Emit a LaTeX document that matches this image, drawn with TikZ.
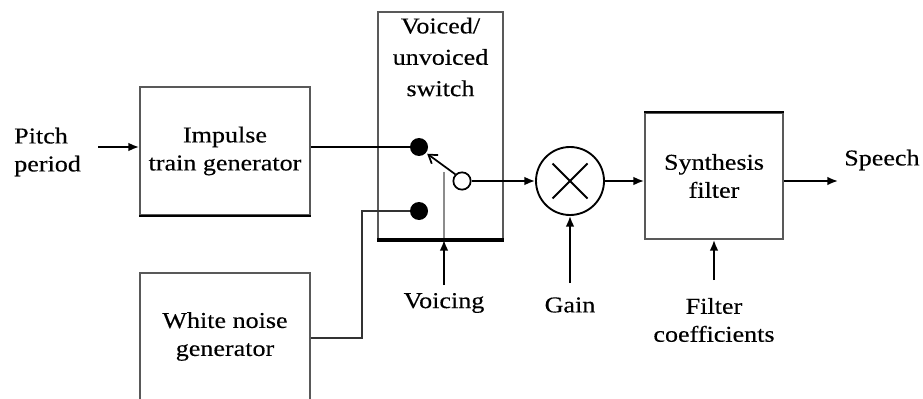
\documentclass[tikz,border=0pt]{standalone}
\usepackage{fontspec}
\setmainfont{Liberation Serif}[FakeStretch=1.15,FakeBold=0.3]
\usetikzlibrary{arrows.meta,calc}
\begin{document}
\begin{tikzpicture}[x=0.75pt,y=-0.75pt,
  font=\fontsize{17}{21}\selectfont,
  blk/.style={draw=black!65, line width=1.4pt, minimum width=#1},
  lbl/.style={align=center, inner sep=0pt},
  conn/.style={line width=1.4pt, -{Latex[length=8pt,width=6.5pt]}},
  wire/.style={line width=1.4pt},
  dotn/.style={circle, fill=black, minimum size=13.5pt, inner sep=0pt},
  opendot/.style={circle, draw=black, fill=white, line width=1.3pt, minimum size=13pt, inner sep=0pt}]
\clip (0,0) rectangle (923,399);
\useasboundingbox (0,0) rectangle (923,399);

% blocks
\node[blk=127.5pt, minimum height=96pt, lbl] (imp) at (225,151) {Impulse\\train generator};
\node[blk=127.5pt, minimum height=95.25pt, lbl] (wn) at (225,336.5) {White noise\\generator};
\node[blk=103.5pt, minimum height=94.5pt, lbl] (syn) at (714,176) {Synthesis\\filter};
\node[blk=93.75pt, minimum height=170.25pt] (sw) at (440.5,125.5) {};
\draw[line width=2.6pt] (sw.south west) -- (sw.south east);
\draw[line width=1.4pt] (imp.south west) -- (imp.south east);
\draw[line width=1.4pt] (syn.north west) -- (syn.north east);
\node[lbl, font=\fontsize{17}{23.5}\selectfont] (swt) at (440.5,57) {Voiced/\\unvoiced\\switch};

% multiplier
\node[circle, draw=black, line width=1.4pt, minimum size=51pt, inner sep=0pt] (m) at (570,181) {};
\draw[line width=1.4pt] ($(m)+(-17.5,-17.5)$) -- ($(m)+(17.5,17.5)$);
\draw[line width=1.4pt] ($(m)+(-17.5,17.5)$) -- ($(m)+(17.5,-17.5)$);

% switch contacts
\node[dotn] (d1) at (419,147) {};
\node[dotn] (d2) at (419,211) {};
\node[opendot] (o) at (462,181) {};
\draw[black!45, line width=0.8pt] (444,172) -- (444,238);
\draw[line width=1.3pt, -{Straight Barb[length=6pt,width=8pt]}, shorten >=1pt] (o.135) -- (d1.-40);

% labels
\node[lbl, align=left, anchor=west] (pp) at (14,152) {Pitch\\period};
\node[lbl] (vo) at (444,303) {Voicing};
\node[lbl] (ga) at (570,305) {Gain};
\node[lbl] (fc) at (714,320) {Filter\\coefficients};
\node[lbl, anchor=west] (sp) at (844,160) {Speech};

\coordinate (ppend) at (98,147);
\coordinate (vostart) at (444,285);
\coordinate (gastart) at (570,283);
\coordinate (fcstart) at (714,280);
\coordinate (spend) at (838,181);
\coordinate (wnbend) at (362,338);

% connectors
\draw[conn] (ppend) -- (imp.west |- ppend);
\draw[wire] (imp.east |- d1) -- (d1);
\draw[wire, black!80] (wn.east |- wnbend) -- (wnbend) |- (d2);
\draw[conn] (o.east) -- (m.west |- o);
\draw[conn] (vostart) -- (vostart |- sw.south);
\draw[conn] (gastart) -- (m.south);
\draw[conn] (m.east) -- (m.east -| syn.west);
\draw[conn] (syn.east |- spend) -- (spend);
\draw[conn] (fcstart) -- (syn.south);
\end{tikzpicture}
\end{document}
